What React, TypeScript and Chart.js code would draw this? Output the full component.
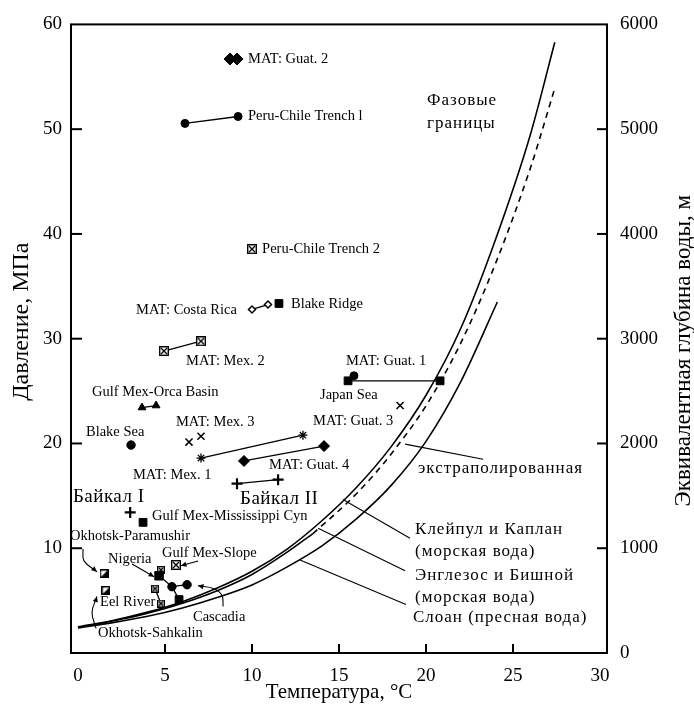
import React, { useEffect, useRef } from 'react';
import { Chart, registerables } from 'chart.js';

Chart.register(...registerables);

const FONT = '"Liberation Serif", "Times New Roman", serif';

// Axis ticks
const xTicks = [0, 5, 10, 15, 20, 25, 30];
const pressureTicks = [10, 20, 30, 40, 50, 60];
const depthTicks = [0, 1000, 2000, 3000, 4000, 5000, 6000];

// Phase boundaries (temperature °C, pressure MPa)
const englezosT = [0, 2, 4, 6, 8, 10, 12, 14, 16, 18, 20, 22, 24, 26, 27.4];
const englezosP = [2.5, 3.1, 3.9, 4.9, 6.2, 7.8, 9.9, 12.6, 15.8, 19.7, 24.6, 31.0, 39.5, 49.5, 58.3];
const claypoolT = [0, 2, 4, 6, 8, 10, 12, 13.5];
const claypoolP = [2.45, 3.05, 3.8, 4.75, 5.95, 7.5, 9.6, 11.4];
const extrapT = [13.5, 15, 16, 17, 18, 20, 22, 24, 26, 27.4];
const extrapP = [11.4, 13.6, 15.2, 17.0, 19.0, 23.6, 29.6, 37.2, 46.3, 53.9];
const sloanT = [0, 2, 4, 6, 8, 10, 12, 14, 16, 18, 20, 22, 24.1];
const sloanP = [2.4, 2.9, 3.5, 4.3, 5.3, 6.5, 8.2, 10.2, 12.8, 16.0, 20.2, 25.9, 33.5];

// Observation sites
const guat2T = [8.74, 9.14], guat2P = [56.7, 56.7];
const peruChile1T = [6.15, 9.2], peruChile1P = [50.55, 51.21];
const peruChile2T = [10.0], peruChile2P = [38.55];
const costaRicaT = [10.0, 10.92], costaRicaP = [32.79, 33.26];
const blakeRidgeT = [11.55], blakeRidgeP = [33.36];
const mex2T = [4.94, 7.07], mex2P = [28.82, 29.76];
const guat1T = [15.86], guat1P = [26.46];
const japanSeaT = [15.52, 20.81], japanSeaP = [25.98, 25.98];
const orcaT = [3.68, 4.49], orcaP = [23.43, 23.62];
const blakeSeaT = [3.05], blakeSeaP = [19.85];
const mex3T = [6.38, 7.07], mex3P = [20.13, 20.69];
const guat3T = [18.51], guat3P = [23.62];
const mex1T = [7.07, 12.93], mex1P = [18.61, 20.79];
const guat4T = [9.54, 14.14], guat4P = [18.33, 19.75];
const baikal2T = [9.14, 11.5], baikal2P = [16.16, 16.54];
const baikal1T = [3.0], baikal1P = [13.42];
const mississippiT = [3.74], mississippiP = [12.47];
const paramushirT = [1.5], paramushirP = [7.56];
const sakhalinT = [1.61], sakhalinP = [5.95];
const eelRiverT = [4.43, 4.77], eelRiverP = [6.14, 4.72];
const nigeriaSqT = [4.66], nigeriaSqP = [7.37];
const nigeriaBoxT = [4.77], nigeriaBoxP = [7.94];
const cascadiaCircT = [5.40, 6.27], cascadiaCircP = [6.33, 6.52];
const cascadiaSqT = [5.81], cascadiaSqP = [5.10];
const gulfSlopeT = [5.63], gulfSlopeP = [8.41];

// Leader lines
const ptrClaypoolT = [15.23, 19.08], ptrClaypoolP = [14.65, 10.96];
const ptrEnglezosT = [13.8, 18.8], ptrEnglezosP = [11.91, 7.84];
const ptrSloanT = [12.76, 18.85], ptrSloanP = [8.88, 4.63];
const ptrExtrapT = [18.8, 23.28], ptrExtrapP = [19.94, 18.5];
const arrParamushirT = [0.29, 0.35, 1.09], arrParamushirP = [9.92, 8.79, 7.75];
const arrSakhalinT = [1.04, 0.81, 1.09], arrSakhalinP = [2.36, 3.87, 5.39];
const arrNigeriaT = [3.11, 4.37], arrNigeriaP = [8.5, 7.28];
const arrSlopeT = [6.9, 5.92], arrSlopeP = [8.79, 8.32];
const arrCascadiaT = [8.34, 8.28, 7.82, 6.9], arrCascadiaP = [4.44, 5.48, 6.14, 6.43];

// Text labels
const siteLabels = ['MAT: Guat. 2', 'Peru-Chile Trench l', 'Peru-Chile Trench 2', 'MAT: Costa Rica', 'Blake Ridge', 'MAT: Mex. 2', 'MAT: Guat. 1', 'Japan Sea', 'Gulf Mex-Orca Basin', 'Blake Sea', 'MAT: Mex. 3', 'MAT: Guat. 3', 'MAT: Mex. 1', 'MAT: Guat. 4', 'Gulf Mex-Mississippi Cyn', 'Okhotsk-Paramushir', 'Nigeria', 'Gulf Mex-Slope', 'Eel River', 'Cascadia', 'Okhotsk-Sahkalin'];
const siteLabelT = [9.77, 9.77, 10.58, 3.34, 12.24, 6.21, 15.4, 13.91, 0.81, 0.46, 5.63, 13.51, 3.16, 10.98, 4.26, -0.46, 1.73, 4.83, 1.27, 6.61, 1.15];
const siteLabelP = [56.7, 51.2, 38.55, 32.7, 33.26, 27.87, 27.87, 24.57, 24.85, 21.07, 22.02, 22.11, 17.0, 17.95, 13.04, 11.15, 8.98, 9.54, 4.82, 3.4, 1.89];
const lakeLabels = ['Байкал I', 'Байкал II'];
const lakeLabelT = [-0.29, 9.31];
const lakeLabelP = [14.93, 14.74];
const boundaryLabels = ['Фазовые', 'границы', 'экстраполированная', 'Клейпул и Каплан', '(морская вода)', 'Энглезос и Бишной', '(морская вода)', 'Слоан (пресная вода)'];
const boundaryLabelT = [20.06, 20.06, 19.54, 19.37, 19.37, 19.37, 19.37, 19.25];
const boundaryLabelP = [52.73, 50.55, 17.58, 11.81, 9.73, 7.37, 5.29, 3.4];

const zip = (t: number[], p: number[]) => t.map((v, i) => ({ x: v, y: p[i] }));

function makeBoxX(size: number) {
  const c = document.createElement('canvas');
  c.width = size; c.height = size;
  const g = c.getContext('2d')!;
  g.fillStyle = '#fff'; g.fillRect(0, 0, size, size);
  g.strokeStyle = '#000'; g.lineWidth = 1.4;
  g.strokeRect(0.7, 0.7, size - 1.4, size - 1.4);
  g.beginPath();
  g.moveTo(2, 2); g.lineTo(size - 2, size - 2);
  g.moveTo(size - 2, 2); g.lineTo(2, size - 2);
  g.stroke();
  return c;
}
function makeHalfSquare(size: number) {
  const c = document.createElement('canvas');
  c.width = size; c.height = size;
  const g = c.getContext('2d')!;
  g.fillStyle = '#fff'; g.fillRect(0, 0, size, size);
  g.fillStyle = '#000';
  g.beginPath(); g.moveTo(size, 0); g.lineTo(size, size); g.lineTo(0, size); g.closePath(); g.fill();
  g.strokeStyle = '#000'; g.lineWidth = 1.4;
  g.strokeRect(0.7, 0.7, size - 1.4, size - 1.4);
  return c;
}

export default function App() {
  const ref = useRef<HTMLCanvasElement>(null);
  useEffect(() => {
    const boxX = makeBoxX(10);
    const boxXs = makeBoxX(8);
    const half = makeHalfSquare(9);
    const K = '#000';
    const curve = (data: any[], extra: any = {}) => ({ data, showLine: true, borderColor: K, borderWidth: 1.6, pointRadius: 0, fill: false, cubicInterpolationMode: 'monotone', ...extra });
    const thin = (data: any[], extra: any = {}) => ({ data, showLine: true, borderColor: K, borderWidth: 1.1, pointRadius: 0, fill: false, ...extra });
    const mark = (data: any[], style: any, r: number, extra: any = {}) => ({ data, showLine: false, pointStyle: style, pointRadius: r, pointBackgroundColor: K, pointBorderColor: K, pointBorderWidth: 1, borderColor: K, borderWidth: 1.3, ...extra });

    const datasets: any[] = [
      curve(zip(englezosT, englezosP)),
      curve(zip(claypoolT, claypoolP)),
      curve(zip(extrapT, extrapP), { borderDash: [6, 5] }),
      curve(zip(sloanT, sloanP)),
      thin(zip(ptrClaypoolT, ptrClaypoolP)),
      thin(zip(ptrEnglezosT, ptrEnglezosP)),
      thin(zip(ptrSloanT, ptrSloanP)),
      thin(zip(ptrExtrapT, ptrExtrapP)),
      thin(zip(arrParamushirT, arrParamushirP), { tension: 0.4, arrowHead: true }),
      thin(zip(arrSakhalinT, arrSakhalinP), { tension: 0.4, arrowHead: true }),
      thin(zip(arrNigeriaT, arrNigeriaP), { arrowHead: true }),
      thin(zip(arrSlopeT, arrSlopeP), { arrowHead: true }),
      thin(zip(arrCascadiaT, arrCascadiaP), { tension: 0.4, arrowHead: true }),
      thin(zip(nigeriaSqT.concat(cascadiaCircT), nigeriaSqP.concat(cascadiaCircP)), { borderWidth: 1.3 }),
      thin(zip([cascadiaCircT[0], cascadiaSqT[0]], [cascadiaCircP[0], cascadiaSqP[0]]), { borderWidth: 1.3 }),
      mark(zip(guat2T, guat2P), 'rectRot', 6),
      mark(zip(peruChile1T, peruChile1P), 'circle', 4, { showLine: true }),
      mark(zip(peruChile2T, peruChile2P), boxX, 5),
      mark(zip(costaRicaT, costaRicaP), 'rectRot', 3.5, { showLine: true, pointBackgroundColor: '#fff', pointBorderWidth: 1.5 }),
      mark(zip(blakeRidgeT, blakeRidgeP), 'rect', 5.5),
      mark(zip(mex2T, mex2P), boxX, 5, { showLine: true }),
      mark(zip(japanSeaT, japanSeaP), 'rect', 5.5, { showLine: true }),
      mark(zip(guat1T, guat1P), 'circle', 4),
      mark(zip(orcaT, orcaP), 'triangle', 4.5, { showLine: true }),
      mark(zip(blakeSeaT, blakeSeaP), 'circle', 4.2),
      mark(zip(mex3T, mex3P), 'crossRot', 5, { pointBorderWidth: 1.5 }),
      mark(zip(guat3T, guat3P), 'crossRot', 5, { pointBorderWidth: 1.5 }),
      mark(zip(mex1T, mex1P), 'star', 4.5, { showLine: true, pointBorderWidth: 1.3 }),
      mark(zip(guat4T, guat4P), 'rectRot', 5.5, { showLine: true }),
      mark(zip(baikal2T, baikal2P), 'cross', 5.5, { showLine: true, pointBorderWidth: 2.2 }),
      mark(zip(baikal1T, baikal1P), 'cross', 5.5, { pointBorderWidth: 2.2 }),
      mark(zip(mississippiT, mississippiP), 'rect', 5.5),
      mark(zip(paramushirT, paramushirP), half, 5),
      mark(zip(sakhalinT, sakhalinP), half, 5),
      mark(zip(eelRiverT, eelRiverP), boxXs, 4, { showLine: true }),
      mark(zip(nigeriaSqT, nigeriaSqP), 'rect', 6),
      mark(zip(nigeriaBoxT, nigeriaBoxP), boxXs, 4),
      mark(zip(cascadiaCircT, cascadiaCircP), 'circle', 4.2),
      mark(zip(cascadiaSqT, cascadiaSqP), 'rect', 5.5),
      mark(zip(gulfSlopeT, gulfSlopeP), boxX, 5),
    ];

    const textPlugin = {
      id: 'texts',
      afterDatasetsDraw(chart: any) {
        const { ctx, scales } = chart;
        const put = (txt: string, t: number, p: number, size: number, spacing: string) => {
          ctx.save();
          ctx.font = `${size}px ${FONT}`;
          (ctx as any).letterSpacing = spacing;
          ctx.fillStyle = '#000';
          ctx.textAlign = 'left';
          ctx.textBaseline = 'middle';
          ctx.fillText(txt, scales.x.getPixelForValue(t), scales.y.getPixelForValue(p));
          ctx.restore();
        };
        siteLabels.forEach((s, i) => put(s, siteLabelT[i], siteLabelP[i], 14.5, '0px'));
        lakeLabels.forEach((s, i) => put(s, lakeLabelT[i], lakeLabelP[i], 19, '0.5px'));
        boundaryLabels.forEach((s, i) => put(s, boundaryLabelT[i], boundaryLabelP[i], 17, '1px'));
        // arrow heads
        chart.data.datasets.forEach((ds: any, i: number) => {
          if (!ds.arrowHead) return;
          const pts = chart.getDatasetMeta(i).data;
          const a = pts[pts.length - 2], b = pts[pts.length - 1];
          const ang = Math.atan2(b.y - a.y, b.x - a.x);
          const L = 6, W = 0.45;
          ctx.save();
          ctx.fillStyle = '#000';
          ctx.beginPath();
          ctx.moveTo(b.x, b.y);
          ctx.lineTo(b.x - L * Math.cos(ang - W), b.y - L * Math.sin(ang - W));
          ctx.lineTo(b.x - L * Math.cos(ang + W), b.y - L * Math.sin(ang + W));
          ctx.closePath();
          ctx.fill();
          ctx.restore();
        });
      },
    };

    const framePlugin = {
      id: 'frame',
      afterDraw(chart: any) {
        const { ctx, chartArea, scales } = chart;
        const { left, top, right, bottom } = chartArea;
        ctx.save();
        ctx.strokeStyle = '#000';
        ctx.lineWidth = 2;
        ctx.strokeRect(left, top, right - left, bottom - top);
        const seg = (x1: number, y1: number, x2: number, y2: number) => { ctx.beginPath(); ctx.moveTo(x1, y1); ctx.lineTo(x2, y2); ctx.stroke(); };
        pressureTicks.filter(v => v < 60).forEach(v => { const y = scales.y.getPixelForValue(v); seg(left, y, left + 11, y); });
        depthTicks.filter(v => v > 0 && v < 6000).forEach(v => { const y = scales.y2.getPixelForValue(v); seg(right - 10, y, right, y); });
        xTicks.filter(v => v > 0 && v < 30).forEach(v => { const x = scales.x.getPixelForValue(v); seg(x, bottom, x, bottom - 9); });
        ctx.fillStyle = '#000';
        ctx.textAlign = 'center';
        ctx.textBaseline = 'middle';
        // left axis title
        ctx.save();
        ctx.translate(22, (top + bottom) / 2 - 17);
        ctx.rotate(-Math.PI / 2);
        ctx.font = `24px ${FONT}`;
        ctx.fillText('Давление, МПа', 0, 0);
        ctx.restore();
        // right axis title, reading bottom-to-top
        ctx.save();
        ctx.translate(684, (top + bottom) / 2 + 12);
        ctx.rotate(-Math.PI / 2);
        ctx.font = `23px ${FONT}`;
        ctx.fillText('Эквивалентная глубина воды, м', 0, 0);
        ctx.restore();
        ctx.restore();
      },
    };

    const tickFont = { family: FONT, size: 19 };
    const chart = new Chart(ref.current!, {
      type: 'scatter',
      data: { datasets },
      options: {
        responsive: true,
        maintainAspectRatio: false,
        animation: false,
        events: [],
        layout: { padding: { top: 18, left: 0, right: 0, bottom: 0 } },
        plugins: { legend: { display: false }, tooltip: { enabled: false }, title: { display: false } },
        scales: {
          x: {
            type: 'linear', min: -0.4, max: 30.4,
            afterBuildTicks: (s: any) => { s.ticks = xTicks.map(v => ({ value: v })); },
            afterFit: (s: any) => { s.height = 54; },
            grid: { display: false, drawTicks: false },
            border: { display: false },
            ticks: { font: tickFont, color: '#000', padding: 12, maxRotation: 0, autoSkip: false, callback: (v: any) => String(v) },
            title: { display: true, text: 'Температура, °C', color: '#000', font: { family: FONT, size: 21 }, padding: { top: 0, bottom: 2 } },
          },
          y: {
            type: 'linear', position: 'left', min: 0, max: 60,
            afterBuildTicks: (s: any) => { s.ticks = pressureTicks.map(v => ({ value: v })); },
            afterFit: (s: any) => { s.width = 71; },
            grid: { display: false, drawTicks: false },
            border: { display: false },
            ticks: { font: tickFont, color: '#000', padding: 9, callback: (v: any) => String(v) },
          },
          y2: {
            type: 'linear', position: 'right', min: 0, max: 6000,
            afterBuildTicks: (s: any) => { s.ticks = depthTicks.map(v => ({ value: v })); },
            afterFit: (s: any) => { s.width = 87; },
            grid: { display: false, drawTicks: false },
            border: { display: false },
            ticks: { font: tickFont, color: '#000', padding: 13, callback: (v: any) => String(v) },
          },
        },
      } as any,
      plugins: [textPlugin, framePlugin],
    });
    return () => chart.destroy();
  }, []);
  return (
    <div style={{ position: 'fixed', left: 0, top: 0, width: 694, height: 707, background: '#fff' }}>
      <canvas ref={ref} />
    </div>
  );
}
